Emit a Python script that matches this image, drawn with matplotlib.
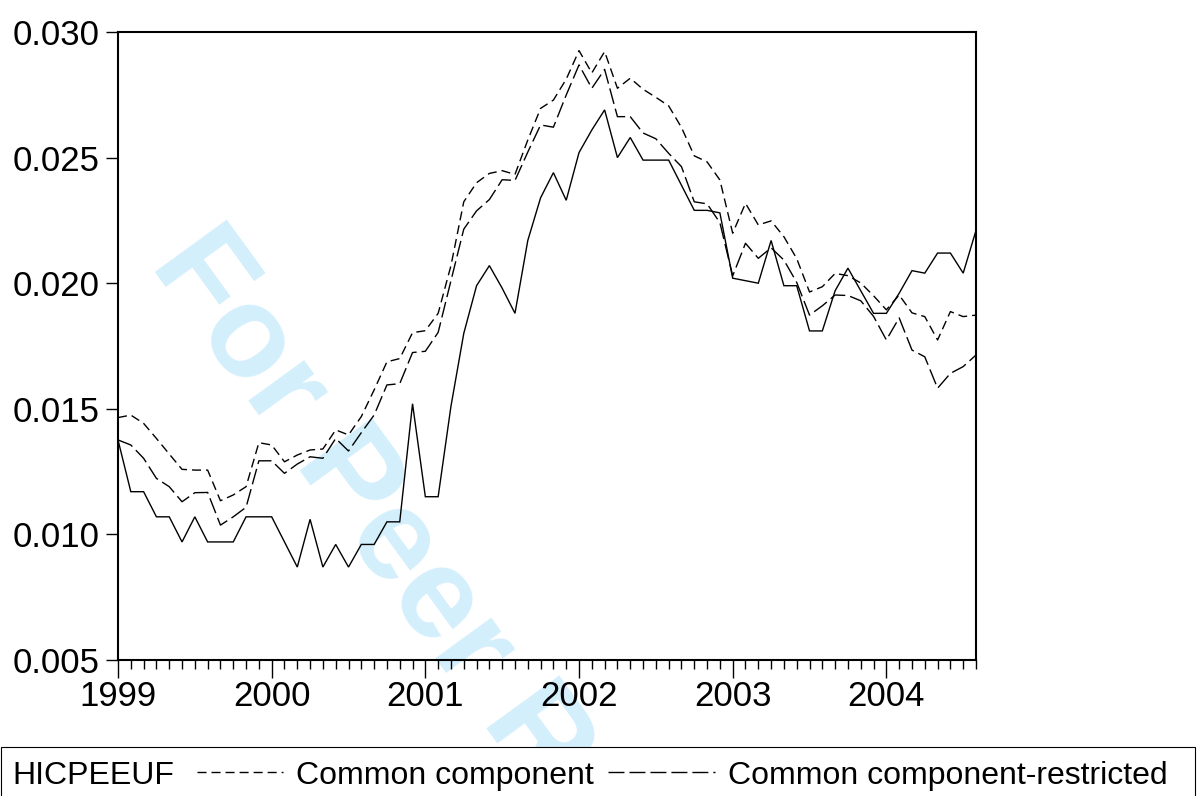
import numpy as np
import pandas as pd
import matplotlib
matplotlib.use("Agg")
import matplotlib.pyplot as plt
from matplotlib.patches import Rectangle
from matplotlib.lines import Line2D
from matplotlib.ticker import FixedLocator, FormatStrFormatter

plt.rcParams['font.family'] = ['Liberation Sans', 'DejaVu Sans']
plt.rcParams['lines.scale_dashes'] = False

# ---------------- data ----------------
months = pd.period_range('1999-01', '2004-08', freq='M')

hicpeeuf = [0.01376, 0.0117, 0.0117, 0.0107, 0.0107, 0.0097, 0.0107, 0.0097, 0.0097, 0.0097,
            0.0107, 0.0107, 0.0107, 0.0097, 0.0087, 0.0106, 0.0087, 0.0096, 0.0087, 0.0096,
            0.0096, 0.0105, 0.0105, 0.0152, 0.0115, 0.0115, 0.0151, 0.0180, 0.0199, 0.0207,
            0.0198, 0.0188, 0.0217, 0.0234, 0.0244, 0.0233, 0.0252, 0.0261, 0.0269, 0.0250,
            0.0258, 0.0249, 0.0249, 0.0249, 0.0239, 0.0229, 0.0229, 0.0228, 0.0202, 0.0201,
            0.0200, 0.0217, 0.0199, 0.0199, 0.0181, 0.0181, 0.0197, 0.0206, 0.0197, 0.0188,
            0.0188, 0.0196, 0.0205, 0.0204, 0.0212, 0.0212, 0.0204, 0.0221]

common = [0.01465, 0.01475, 0.01442, 0.01382, 0.0132, 0.01259, 0.01256, 0.01256, 0.01134, 0.01157,
          0.0119, 0.01365, 0.01356, 0.01289, 0.01316, 0.01336, 0.0134, 0.01416, 0.01396, 0.01469,
          0.01575, 0.01687, 0.0170, 0.01803, 0.01811, 0.0188, 0.0207, 0.02324, 0.0240, 0.02437,
          0.02448, 0.02433, 0.0257, 0.02696, 0.02729, 0.02812, 0.02926, 0.02837, 0.02922, 0.02776,
          0.02816, 0.02772, 0.0274, 0.02706, 0.0262, 0.02507, 0.02483, 0.02411, 0.02199, 0.02318,
          0.02232, 0.02248, 0.02185, 0.02098, 0.01965, 0.01986, 0.02039, 0.0203, 0.02001, 0.0195,
          0.01894, 0.01953, 0.01882, 0.01867, 0.01774, 0.01887, 0.01867, 0.01873]

restricted = [0.01376, 0.01356, 0.01303, 0.01223, 0.0119, 0.0113, 0.01166, 0.01167, 0.01037, 0.0107,
              0.01108, 0.01293, 0.01293, 0.01243, 0.0128, 0.01309, 0.01303, 0.01382, 0.01332, 0.01405,
              0.01475, 0.01595, 0.0160, 0.01724, 0.01729, 0.01804, 0.0201, 0.02215, 0.02288, 0.02333,
              0.02412, 0.02409, 0.02522, 0.0263, 0.02621, 0.02749, 0.02869, 0.02776, 0.02851, 0.02663,
              0.02663, 0.02598, 0.02575, 0.02517, 0.02464, 0.02324, 0.02316, 0.02241, 0.02029, 0.02159,
              0.02099, 0.02141, 0.02092, 0.02003, 0.01873, 0.0191, 0.01953, 0.01951, 0.0193, 0.01868,
              0.01774, 0.01862, 0.01734, 0.01707, 0.01582, 0.01641, 0.01668, 0.01714]

year_labels = ['1999', '2000', '2001', '2002', '2003', '2004']
y_ticks = [0.005, 0.010, 0.015, 0.020, 0.025, 0.030]
series_names = ['HICPEEUF', 'Common component', 'Common component-restricted']

# ---------------- figure ----------------
W, H = 1199, 796
fig = plt.figure(figsize=(W / 100, H / 100), dpi=100)
fig.patch.set_facecolor('white')

def fx(px):
    return px / W

def fy(py):
    return 1 - py / H

left, right, top, bottom = 118, 976, 32, 660
ax = fig.add_axes([fx(left), fy(bottom), fx(right - left), (bottom - top) / H])
ax.set_facecolor('none')

x = np.array([p.year + (p.month - 1) / 12 for p in months])

short_dash = (0, (6.5, 3.6))
long_dash = (0, (11.5, 3.6))

ax.plot(x, hicpeeuf, color='black', lw=1.0, solid_joinstyle='miter')
ax.plot(x, common, color='black', lw=1.0, linestyle=short_dash)
ax.plot(x, restricted, color='black', lw=1.0, linestyle=long_dash)

ax.set_xlim(x[0], x[-1])
ax.set_ylim(0.005, 0.030)

ax.yaxis.set_major_locator(FixedLocator(y_ticks))
ax.yaxis.set_major_formatter(FormatStrFormatter('%.3f'))
year_pos = [int(y) for y in year_labels]
ax.xaxis.set_major_locator(FixedLocator(year_pos))
ax.set_xticklabels(year_labels)
ax.xaxis.set_minor_locator(FixedLocator(list(x)))

ax.tick_params(axis='y', which='major', direction='out', length=8.6, width=1.0,
               pad=4.3, labelsize=25, left=True, right=False)
ax.tick_params(axis='x', which='major', direction='out', length=13, width=1.0,
               pad=1.5, labelsize=25, bottom=True, top=False)
ax.tick_params(axis='x', which='minor', direction='out', length=6.5, width=1.0,
               bottom=True, top=False)

for s in ax.spines.values():
    s.set_linewidth(1.5)
    s.set_color('black')

# watermark (behind everything)
fig.text(fx(148.5), fy(264.7), 'For Peer Review', rotation=-54, rotation_mode='anchor',
         ha='left', va='baseline', fontsize=93.6, fontweight='bold',
         color='#d4effc', zorder=-1)

# legend box
rect = Rectangle((fx(0.5), fy(802)), fx(1195 - 0.5), (802 - 747) / H,
                 transform=fig.transFigure, facecolor='white', edgecolor='black',
                 linewidth=0.8, zorder=5, clip_on=False)
fig.add_artist(rect)

ly = 784
fs_leg = 23
fig.text(fx(12), fy(ly), series_names[0], fontsize=fs_leg, ha='left', va='baseline', zorder=6)
fig.add_artist(Line2D([fx(197), fx(283)], [fy(772), fy(772)], transform=fig.transFigure,
                      color='black', lw=1.0, linestyle=short_dash, zorder=6))
fig.text(fx(296), fy(ly), series_names[1], fontsize=fs_leg, ha='left', va='baseline', zorder=6)
fig.add_artist(Line2D([fx(608), fx(715)], [fy(772), fy(772)], transform=fig.transFigure,
                      color='black', lw=1.0, linestyle=long_dash, zorder=6))
fig.text(fx(728), fy(ly), series_names[2], fontsize=fs_leg, ha='left', va='baseline', zorder=6)

fig.savefig('out.png', dpi=100, facecolor='white')
